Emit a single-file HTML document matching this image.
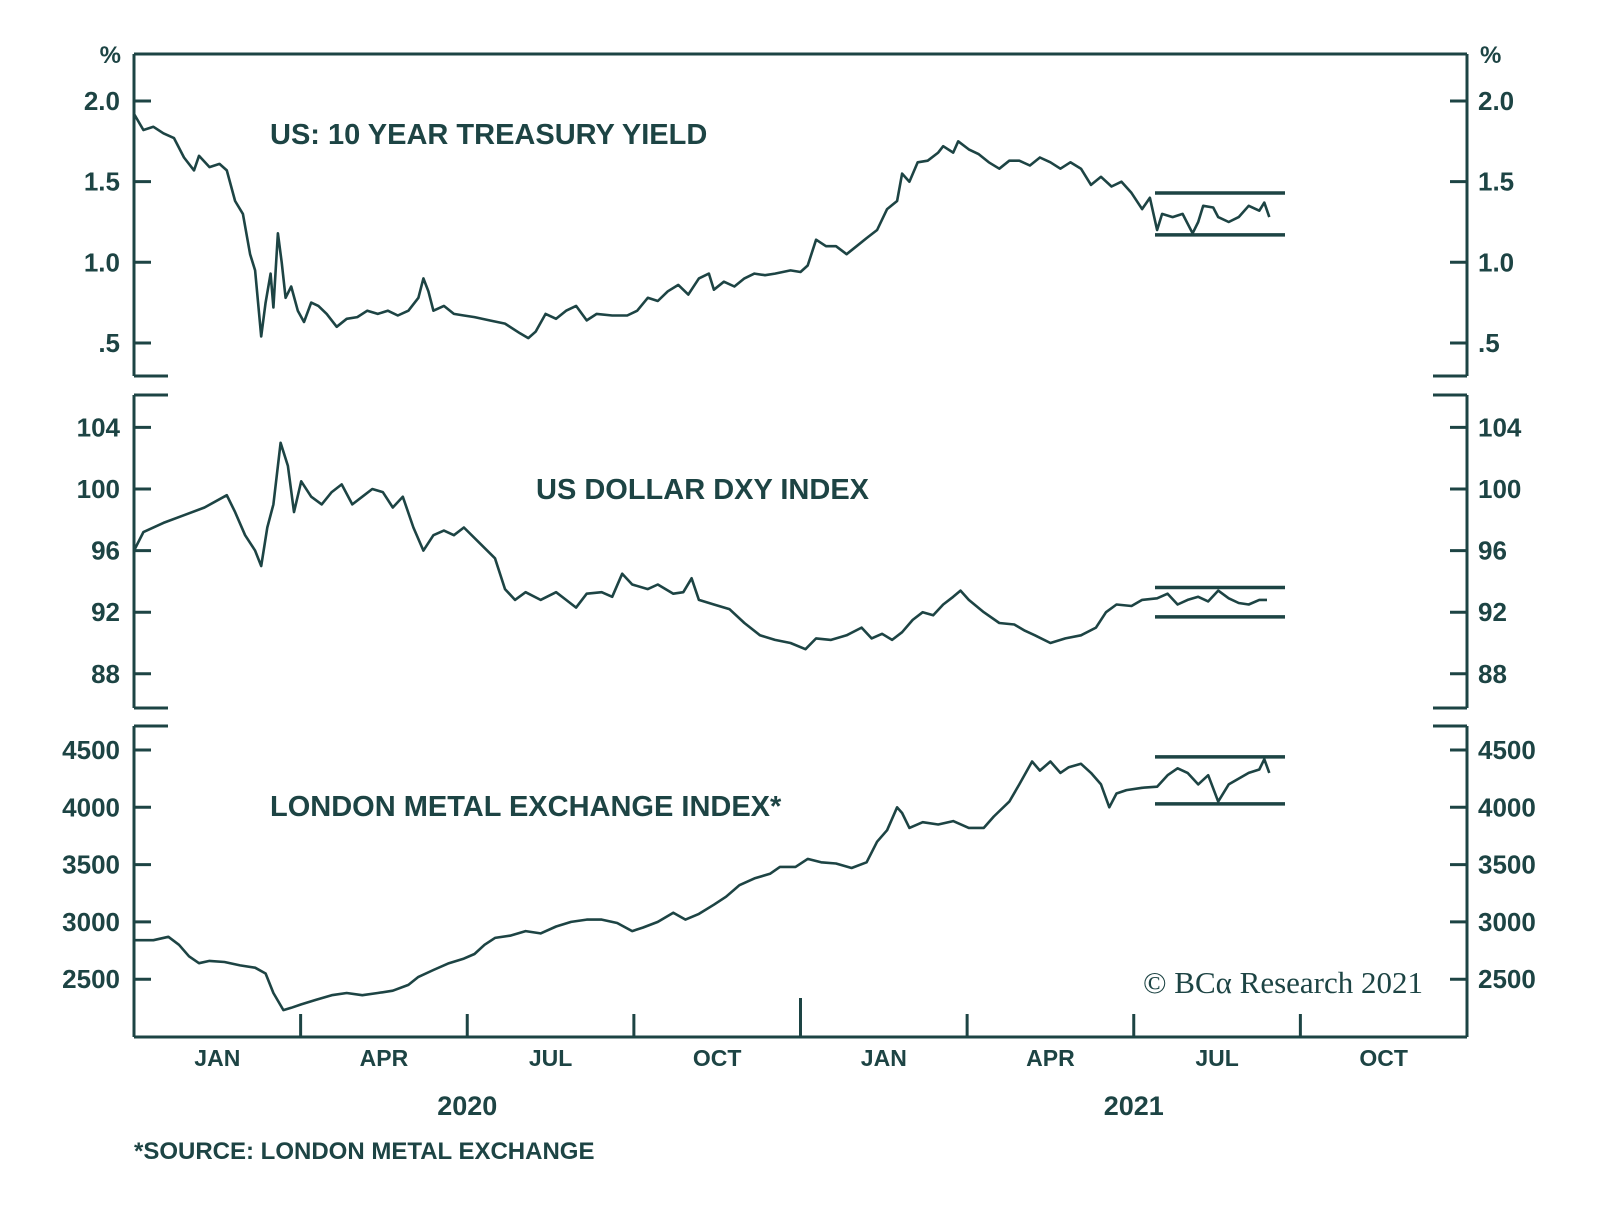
<!DOCTYPE html>
<html><head><meta charset="utf-8"><style>
html,body{margin:0;padding:0;background:#fff;}
svg{display:block;}
text{font-family:"Liberation Sans",sans-serif;font-weight:bold;fill:#1d4444;}
</style></head><body>
<svg id="chart" width="1600" height="1218" viewBox="0 0 1600 1218" xmlns="http://www.w3.org/2000/svg">
<g id="frame"></g><g id="series"></g><g id="labels"></g>
<text x="1143" y="993" style="font-family:'Liberation Serif',serif;font-weight:normal;font-size:31px">© BCα Research 2021</text>
<text x="134" y="1159" font-size="24">*SOURCE: LONDON METAL EXCHANGE</text>
</svg>
<script>
// months since Jan 2020
const yieldMonths=[0,.17,.35,.53,.72,.90,1.08,1.17,1.36,1.54,1.67,1.82,1.96,2.09,2.18,2.29,2.37,2.46,2.51,2.59,2.66,2.73,2.83,2.95,3.06,3.19,3.32,3.47,3.65,3.83,4.02,4.20,4.39,4.57,4.75,4.94,5.12,5.21,5.30,5.39,5.58,5.76,5.94,6.13,6.40,6.68,6.95,7.10,7.23,7.41,7.60,7.78,7.96,8.15,8.33,8.61,8.88,9.06,9.25,9.43,9.61,9.80,9.98,10.17,10.35,10.44,10.62,10.81,10.99,11.17,11.36,11.54,11.82,12.0,12.13,12.28,12.46,12.64,12.83,13.01,13.19,13.38,13.56,13.74,13.83,13.96,14.11,14.29,14.48,14.57,14.75,14.84,15.03,15.21,15.39,15.58,15.76,15.94,16.13,16.31,16.50,16.68,16.86,17.05,17.23,17.41,17.60,17.78,17.96,18.15,18.29,18.42,18.51,18.70,18.88,19.06,19.16,19.25,19.43,19.52,19.71,19.89,20.07,20.26,20.35,20.44];
const yieldValues=[1.92,1.82,1.84,1.80,1.77,1.65,1.57,1.66,1.59,1.61,1.57,1.38,1.30,1.05,0.95,0.54,0.75,0.93,0.72,1.18,1.0,0.78,0.85,0.70,0.63,0.75,0.73,0.68,0.60,0.65,0.66,0.70,0.68,0.70,0.67,0.70,0.78,0.90,0.82,0.70,0.73,0.68,0.67,0.66,0.64,0.62,0.56,0.53,0.57,0.68,0.65,0.70,0.73,0.64,0.68,0.67,0.67,0.70,0.78,0.76,0.82,0.86,0.80,0.90,0.93,0.83,0.88,0.85,0.90,0.93,0.92,0.93,0.95,0.94,0.98,1.14,1.10,1.10,1.05,1.10,1.15,1.20,1.33,1.38,1.55,1.50,1.62,1.63,1.68,1.72,1.68,1.75,1.70,1.67,1.62,1.58,1.63,1.63,1.60,1.65,1.62,1.58,1.62,1.58,1.48,1.53,1.47,1.50,1.43,1.33,1.40,1.20,1.30,1.28,1.30,1.18,1.25,1.35,1.34,1.28,1.25,1.28,1.35,1.32,1.37,1.28];
const dxyMonths=[0,.17,.53,.90,1.27,1.67,1.82,2.00,2.18,2.29,2.40,2.51,2.64,2.77,2.88,3.01,3.19,3.38,3.56,3.74,3.93,4.11,4.29,4.48,4.66,4.84,5.03,5.21,5.39,5.58,5.76,5.94,6.22,6.50,6.68,6.86,7.05,7.32,7.60,7.78,7.96,8.15,8.42,8.61,8.79,8.97,9.25,9.43,9.71,9.89,10.04,10.17,10.44,10.72,10.99,11.27,11.54,11.82,12.09,12.28,12.55,12.83,13.10,13.28,13.47,13.65,13.83,14.02,14.20,14.39,14.57,14.75,14.88,15.03,15.30,15.58,15.85,16.04,16.22,16.50,16.77,17.05,17.32,17.50,17.69,17.96,18.15,18.42,18.61,18.79,18.97,19.16,19.34,19.52,19.71,19.89,20.07,20.26,20.40];
const dxyValues=[96.0,97.2,97.8,98.3,98.8,99.6,98.5,97.0,96.0,95.0,97.5,99.0,103,101.5,98.5,100.5,99.5,99.0,99.8,100.3,99.0,99.5,100.0,99.8,98.8,99.5,97.5,96.0,97.0,97.3,97.0,97.5,96.5,95.5,93.5,92.8,93.3,92.8,93.3,92.8,92.3,93.2,93.3,93.0,94.5,93.8,93.5,93.8,93.2,93.3,94.2,92.8,92.5,92.2,91.3,90.5,90.2,90.0,89.6,90.3,90.2,90.5,91.0,90.3,90.6,90.2,90.7,91.5,92.0,91.8,92.5,93.0,93.4,92.8,92.0,91.3,91.2,90.8,90.5,90.0,90.3,90.5,91.0,92.0,92.5,92.4,92.8,92.9,93.2,92.5,92.8,93.0,92.7,93.4,92.9,92.6,92.5,92.8,92.8];
const lmeMonths=[0,.35,.62,.81,.99,1.17,1.36,1.63,1.91,2.18,2.37,2.51,2.69,2.83,3.01,3.28,3.56,3.83,4.11,4.39,4.66,4.94,5.12,5.39,5.67,5.94,6.13,6.31,6.50,6.77,7.05,7.32,7.60,7.87,8.15,8.42,8.70,8.97,9.16,9.43,9.71,9.93,10.17,10.44,10.66,10.90,11.17,11.45,11.63,11.91,12.13,12.37,12.64,12.92,13.19,13.38,13.56,13.74,13.83,13.96,14.20,14.48,14.75,15.03,15.30,15.48,15.76,15.94,16.17,16.31,16.50,16.68,16.83,17.05,17.23,17.41,17.56,17.69,17.87,18.15,18.42,18.61,18.79,18.97,19.16,19.34,19.52,19.71,19.89,20.07,20.26,20.35,20.44];
const lmeValues=[2840,2840,2870,2800,2700,2640,2660,2650,2620,2600,2550,2380,2230,2250,2280,2320,2360,2380,2360,2380,2400,2450,2520,2580,2640,2680,2720,2800,2860,2880,2920,2900,2960,3000,3020,3020,2990,2920,2950,3000,3080,3020,3070,3150,3220,3320,3380,3420,3480,3480,3550,3520,3510,3470,3520,3700,3800,4000,3950,3820,3870,3850,3880,3820,3820,3920,4050,4200,4400,4320,4400,4300,4350,4380,4300,4200,4000,4120,4150,4170,4180,4280,4340,4300,4200,4280,4050,4200,4250,4300,4330,4420,4300];
const yieldTicks=[2.0,1.5,1.0,0.5];
const yieldTickLabels=["2.0","1.5","1.0",".5"];
const dxyTicks=[104,100,96,92,88];
const lmeTicks=[4500,4000,3500,3000,2500];
const monthLabels=["JAN","APR","JUL","OCT","JAN","APR","JUL","OCT"];
const yearLabels=["2020","2021"];
const yieldBand=[1.43,1.17];
const dxyBand=[93.6,91.7];
const lmeBand=[4440,4030];

const NS="http://www.w3.org/2000/svg";
const L=134,R=1467,C="#1d4444";
const xS=m=>L+m*(R-L)/24;
const yY=v=>101+(2.0-v)*161.3;
const yD=v=>489+(100-v)*15.4;
const yL=v=>750+(4500-v)*0.1146;
function mk(tag,attrs,parent,txt){const e=document.createElementNS(NS,tag);for(const k in attrs)e.setAttribute(k,attrs[k]);if(txt!=null)e.textContent=txt;parent.appendChild(e);return e;}
const frame=document.getElementById('frame'),series=document.getElementById('series'),labels=document.getElementById('labels');
function line(x1,y1,x2,y2,w,name){const e=mk('line',{x1,y1,x2,y2,stroke:C,'stroke-width':w},frame);

}
const panels=[[54,376,true,false],[395,708,false,false],[726,1037,false,true]];
panels.forEach((p,i)=>{
  line(L,p[0],L,p[1],3,'left-axis');line(R,p[0],R,p[1],3,'right-axis');
  if(p[2])line(L,p[0],R,p[0],3,'top-border');else{line(L,p[0],L+34,p[0],3,'corner-stub');line(R-34,p[0],R,p[0],3,'corner-stub');}
  if(p[3])line(L,p[1],R,p[1],3,'x-axis');else{line(L,p[1],L+34,p[1],3,'corner-stub');line(R-34,p[1],R,p[1],3,'corner-stub');}
});
function ticks(vals,fn,lbls){vals.forEach((v,i)=>{const y=fn(v);line(L,y,L+17,y,3,'y-tick');line(R-17,y,R,y,3,'y-tick');
 const a=mk('text',{x:120,y:y+9,'text-anchor':'end','font-size':26},labels,lbls?lbls[i]:String(v));
 
 
 const b=mk('text',{x:1478,y:y+9,'font-size':26},labels,lbls?lbls[i]:String(v));
 
 });}
ticks(yieldTicks,yY,yieldTickLabels);ticks(dxyTicks,yD);ticks(lmeTicks,yL);
[[121,'end'],[1480,'start']].forEach(p=>{const t=mk('text',{x:p[0],y:63,'text-anchor':p[1],'font-size':24},labels,'%');

});
for(let q=1;q<8;q++){const x=xS(q*3);line(x,q===4?998:1014,x,1037,3,'x-tick');}
monthLabels.forEach((s,i)=>{const t=mk('text',{x:xS(i*3+1.5),y:1066,'text-anchor':'middle','font-size':23},labels,s);

});
yearLabels.forEach((s,i)=>{const t=mk('text',{x:xS(i*12+6),y:1115,'text-anchor':'middle','font-size':27},labels,s);

});
[["US: 10 YEAR TREASURY YIELD",270,144],["US DOLLAR DXY INDEX",536,499],["LONDON METAL EXCHANGE INDEX*",270,816]].forEach(t=>{
 const e=mk('text',{x:t[1],y:t[2],'font-size':29},labels,t[0]);
 
 });
function path(ms,vs,fn,name){const d=ms.map((m,i)=>(i?'L':'M')+xS(m).toFixed(1)+','+fn(vs[i]).toFixed(1)).join('');
 const p=mk('path',{d,fill:'none',stroke:C,'stroke-width':2.6,'stroke-linejoin':'round'},series);
 
 }
path(yieldMonths,yieldValues,yY,'treasury-yield-line');
path(dxyMonths,dxyValues,yD,'dxy-line');
path(lmeMonths,lmeValues,yL,'lme-index-line');
function band(b,fn){b.forEach(v=>{const y=fn(v);const e=mk('line',{x1:1155,y1:y,x2:1285,y2:y,stroke:C,'stroke-width':3.5},series);
 
 });}
band(yieldBand,yY);band(dxyBand,yD);band(lmeBand,yL);
</script>
</body></html>
